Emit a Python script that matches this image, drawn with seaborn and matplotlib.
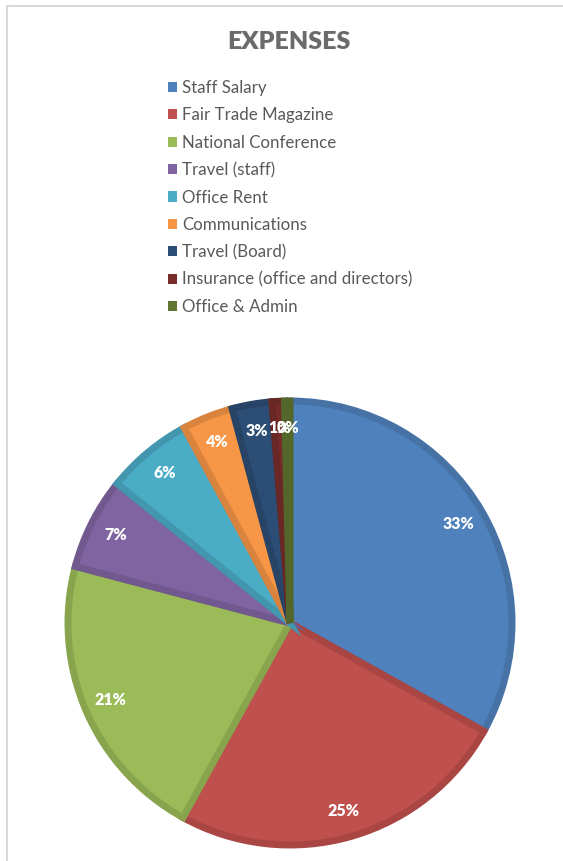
import matplotlib
matplotlib.use("Agg")
import matplotlib.pyplot as plt
import matplotlib.colors as mcolors
from matplotlib.patches import Rectangle
import seaborn as sns

# expense categories and shares (percent)
categories = ['Staff Salary', 'Fair Trade Magazine', 'National Conference', 'Travel (staff)',
              'Office Rent', 'Communications', 'Travel (Board)',
              'Insurance (office and directors)', 'Office & Admin']
shares = [33.1, 24.9, 21.1, 6.7, 6.3, 3.7, 2.9, 0.9, 0.4]
colors = ['#4F81BD', '#C0504D', '#9BBB59', '#8064A2', '#4BACC6',
          '#F79646', '#2C4D75', '#772C2A', '#5F7530']

sns.set_theme(style='white')
plt.rcParams['font.family'] = ['Lato', 'DejaVu Sans']
palette = sns.color_palette(colors)

W, H = 563, 861
fig = plt.figure(figsize=(W / 100, H / 100), dpi=100)

# light chart border
fig.patches.append(Rectangle((7 / W, -0.01), 1.05, 1 - 6 / H + 0.01, transform=fig.transFigure,
                             fill=False, edgecolor='#d9d9d9', linewidth=1.5))

# pie axes: centre (290, 623) px, radius ~222 px
cx, cy, r = 290, 623, 222
ax = fig.add_axes([(cx - r) / W, (H - cy - r) / H, 2 * r / W, 2 * r / H])
wedges, texts, autotexts = ax.pie(shares, colors=palette, startangle=90, counterclock=False,
                                  autopct='%.0f%%', pctdistance=0.88,
                                  textprops=dict(color='white', fontweight='heavy', fontsize=11.5))
for w, c in zip(wedges, palette):
    dark = tuple(v * 0.88 for v in mcolors.to_rgb(c))
    w.set_edgecolor(dark)
    w.set_linewidth(5)
    w.set_clip_path(w)
ax.set_xlim(-1, 1)
ax.set_ylim(-1, 1)
ax.set_aspect('equal')
ax.axis('off')

fig.text(289 / W, 1 - 42 / H, 'EXPENSES', ha='center', va='center', fontsize=18,
         fontweight='heavy', color='#6b6b6b')

leg = fig.legend(wedges, categories, loc='upper left', bbox_to_anchor=(168 / W, 1 - 80 / H),
                 frameon=False, fontsize=12.2, labelcolor='#595959', borderpad=0, borderaxespad=0,
                 handlelength=0.55, handleheight=0.55, handletextpad=0.3, labelspacing=0.67)
for h in leg.legend_handles:
    h.set_linewidth(0)
    h.set_clip_path(None)

fig.savefig('out.png', dpi=100)
